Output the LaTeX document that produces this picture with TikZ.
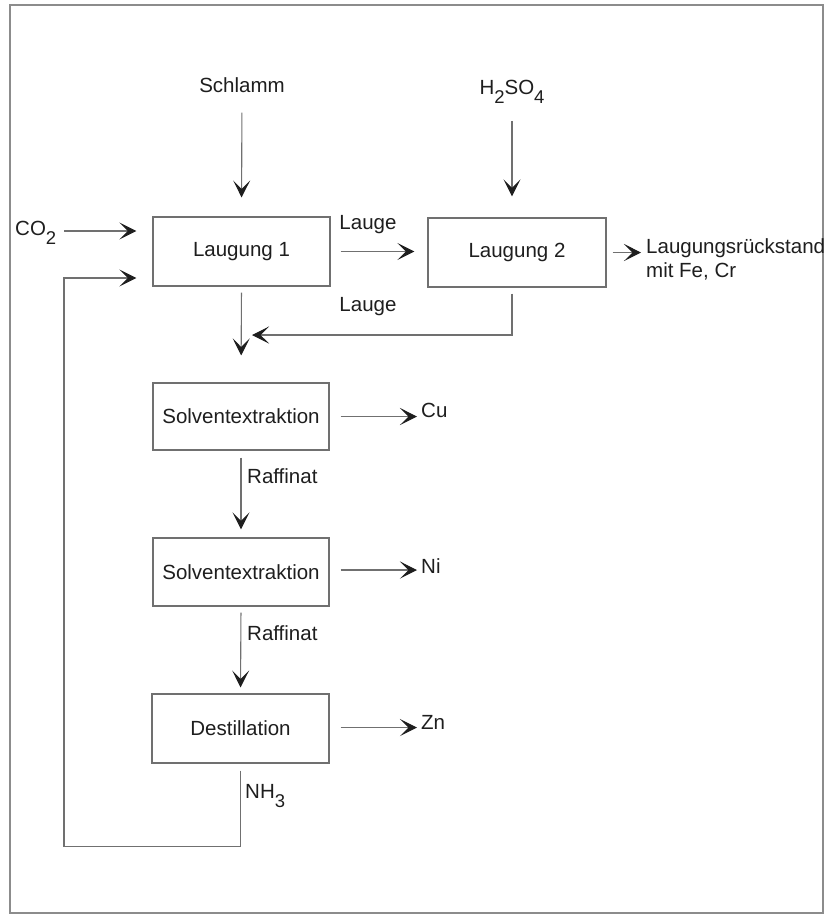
\documentclass[tikz,border=0pt]{standalone}
\usepackage{fontspec}
\setmainfont{Liberation Sans}
\usetikzlibrary{arrows.meta,calc}
\definecolor{ink}{HTML}{1E1E1E}
\definecolor{wire}{HTML}{707070}
\definecolor{rim}{HTML}{8C8C8C}
% lowered index for chemical formulas
\newcommand{\chemidx}[1]{\raisebox{-0.45em}{\fontsize{18.5}{18}\selectfont #1}}

\begin{document}
\begin{tikzpicture}[x=1pt,y=-1pt,
  font=\fontsize{20.5}{24}\selectfont, text=ink,
  box/.style={draw=wire, line width=1.1pt, minimum width=177pt, minimum height=69pt, inner sep=0pt},
  lbl/.style={inner sep=0pt, align=left},
  flow/.style={draw=wire, line width=1.1pt, -{Stealth[length=17pt,width=17pt,inset=8.5pt,color=ink]}}]
\useasboundingbox (0,0) rectangle (826,922);
\draw[rim, line width=1.4pt] (10,5) rectangle (823,913);

% process units
\node[box] (l1) at (241.5,251.5) {Laugung 1};
\node[box, minimum width=178pt] (l2) at (517,252.5) {Laugung 2};
\node[box, minimum width=176pt, minimum height=67pt] (s1) at (241,416.5) {Solventextraktion};
\node[box, minimum width=176pt, minimum height=68pt] (s2) at (241,572) {Solventextraktion};
\node[box] (d) at (240.5,728.5) {Destillation};

% feeds and products
\node[lbl] (schlamm) at (242,85) {Schlamm};
\node[lbl] (acid) at (512,92) {H\chemidx{2}SO\chemidx{4}};
\node[lbl, anchor=west] (co2) at (15,233) {CO\chemidx{2}};
\node[lbl, anchor=west] (res) at (646,259) {Laugungsrückstand\\mit Fe, Cr};
\node[lbl, anchor=west] (cu) at (421,410) {Cu};
\node[lbl, anchor=west] (ni) at (421,566) {Ni};
\node[lbl, anchor=west] (zn) at (421,722) {Zn};

% stream labels
\node[lbl] (lauge1) at (368,225) {Lauge};
\node[lbl] (lauge2) at (368,307) {Lauge};
\node[lbl, anchor=west] (raf1) at (247,476) {Raffinat};
\node[lbl, anchor=west] (raf2) at (247,633) {Raffinat};
\node[lbl, anchor=west] (nh3) at (245,796) {NH\chemidx{3}};

\coordinate (join) at (241,335);
\coordinate (ret) at (64,278);

% main streams
\draw[flow, shorten <=20pt, shorten >=19pt] (schlamm.south) -- (l1.north);
\draw[flow, shorten <=17pt, shorten >=21pt] (acid.south) -- (acid.south |- l2.north);
\draw[flow, shorten <=8pt, shorten >=16pt] (co2.east |- 0,231) -- (l1.west |- 0,231);
\draw[flow, shorten <=10pt, shorten >=13pt] (l1.east) -- (l1.east -| l2.west);
\draw[flow, shorten <=6pt, shorten >=5pt] (l2.east) -- (l2.east -| res.west);
\draw[flow, shorten >=11pt] ([xshift=-5pt,yshift=-6pt]l2.south) |- (join);
\draw[flow, shorten <=6pt, shorten >=27pt] (l1.south) -- (s1.north);
\draw[flow, shorten <=11pt, shorten >=4pt] (s1.east) -- (s1.east -| cu.west);
\draw[flow, shorten <=7pt, shorten >=8pt] (s1.south) -- (s2.north);
\draw[flow, shorten <=11pt, shorten >=4pt] ([yshift=2pt]s2.east) -- ([yshift=2pt]s2.east -| ni.west);
\draw[flow, shorten <=6pt, shorten >=6pt] (s2.south) -- (d.north);
\draw[flow, shorten <=11pt, shorten >=4pt] ([yshift=1pt]d.east) -- ([yshift=1pt]d.east -| zn.west);

% ammonia recycle to the first leaching step
\draw[flow, shorten >=16pt] ([yshift=-7pt]d.south) -- ++(0,76) -| (ret) -- (ret -| l1.west);
\end{tikzpicture}
\end{document}
